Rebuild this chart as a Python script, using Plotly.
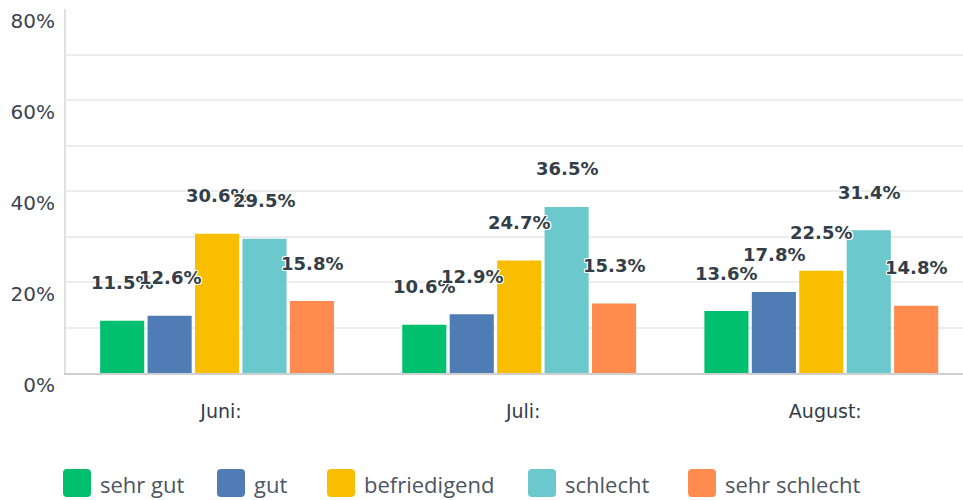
import plotly.graph_objects as go

categories = ["Juni:", "Juli:", "August:"]
series_names = ["sehr gut", "gut", "befriedigend", "schlecht", "sehr schlecht"]
sehr_gut = [11.5, 10.6, 13.6]
gut = [12.6, 12.9, 17.8]
befriedigend = [30.6, 24.7, 22.5]
schlecht = [29.5, 36.5, 31.4]
sehr_schlecht = [15.8, 15.3, 14.8]
series_values = [sehr_gut, gut, befriedigend, schlecht, sehr_schlecht]
colors = ["#00bf6f", "#507cb6", "#f9be00", "#6bc8cd", "#ff8b4f"]
ytick_vals = [0, 10, 20, 30, 40, 50, 60, 70, 80]
ytick_text = ["0%", "", "20%", "", "40%", "", "60%", "", "80%"]

W, H = 963, 500
ML, MR, MT, MB = 66, 0, 9, 127
PW, PH = W - ML - MR, H - MT - MB

bargap = 0.215
fig = go.Figure()
for name, vals, col in zip(series_names, series_values, colors):
    fig.add_trace(go.Bar(name=name, x=list(range(len(categories))), y=vals,
                         marker=dict(color=col, line=dict(width=0)),
                         hoverinfo="skip", showlegend=False))

n = len(series_names)
slot = (1 - bargap) / n
shadow = "1px 1px 0 #fff, -1px -1px 0 #fff, 1px -1px 0 #fff, -1px 1px 0 #fff, 0 1px 0 #fff, 0 -1px 0 #fff, 1px 0 0 #fff, -1px 0 0 #fff"
for j, vals in enumerate(series_values):
    for i, v in enumerate(vals):
        fig.add_annotation(x=i + (j - (n - 1) / 2) * slot, y=v, yshift=38,
                           text=f"{v:.1f}%", showarrow=False,
                           font=dict(family="DejaVu Sans", size=18, color="#333e48",
                                     weight="bold", shadow=shadow))

# custom legend (rounded squares + labels)
legend_px = [63, 217, 327, 528, 688]
def px2x(p):
    return (p - ML) / PW
def py2y(p):
    return (H - MB - p) / PH
sq = 28
ytop, ybot = 469, 497
r = 4
for name, col, lx in zip(series_names, colors, legend_px):
    x0, x1 = lx, lx + sq
    path = (f"M {x0 + r},{ytop} L {x1 - r},{ytop} Q {x1},{ytop} {x1},{ytop + r} "
            f"L {x1},{ybot - r} Q {x1},{ybot} {x1 - r},{ybot} L {x0 + r},{ybot} "
            f"Q {x0},{ybot} {x0},{ybot - r} L {x0},{ytop + r} Q {x0},{ytop} {x0 + r},{ytop} Z")
    parts = path.split()
    out = []
    for p in parts:
        if "," in p:
            a, b = p.split(",")
            out.append(f"{px2x(float(a)):.5f},{py2y(float(b)):.5f}")
        else:
            out.append(p)
    fig.add_shape(type="path", path=" ".join(out), xref="paper", yref="paper",
                  fillcolor=col, line=dict(width=0), layer="above")
    fig.add_annotation(x=px2x(lx + sq + 7), y=py2y(484), xref="paper", yref="paper",
                       xanchor="left", yanchor="middle", showarrow=False,
                       text=name, font=dict(family="Open Sans", size=22, color="#4d5561"))

fig.update_layout(
    width=W, height=H,
    margin=dict(l=ML, r=MR, t=MT, b=MB, autoexpand=False),
    paper_bgcolor="white", plot_bgcolor="white",
    barmode="group", bargap=bargap, bargroupgap=0.07,
    showlegend=False,
    xaxis=dict(tickmode="array", tickvals=list(range(len(categories))), ticktext=categories,
               range=[-0.5, 2.469], showgrid=False, zeroline=False, automargin=False,
               showline=True, linecolor="#cfcfcf", linewidth=2,
               tickfont=dict(family="DejaVu Sans", size=19, color="#333e48"),
               ticklabelstandoff=20, ticklabelshift=4),
    yaxis=dict(range=[0, 80], tickmode="array", tickvals=ytick_vals, ticktext=ytick_text,
               showgrid=True, gridcolor="#ececec", gridwidth=2, zeroline=False, automargin=False,
               showline=True, linecolor="#e0e0e0", linewidth=2,
               tickfont=dict(family="DejaVu Sans", size=20, color="#3b4350"),
               ticklabelshift=12, ticklabelstandoff=5),
)
fig.write_html("out.html", config={"displayModeBar": False},
               post_script="document.body.style.margin='0';document.body.style.overflow='hidden';")
